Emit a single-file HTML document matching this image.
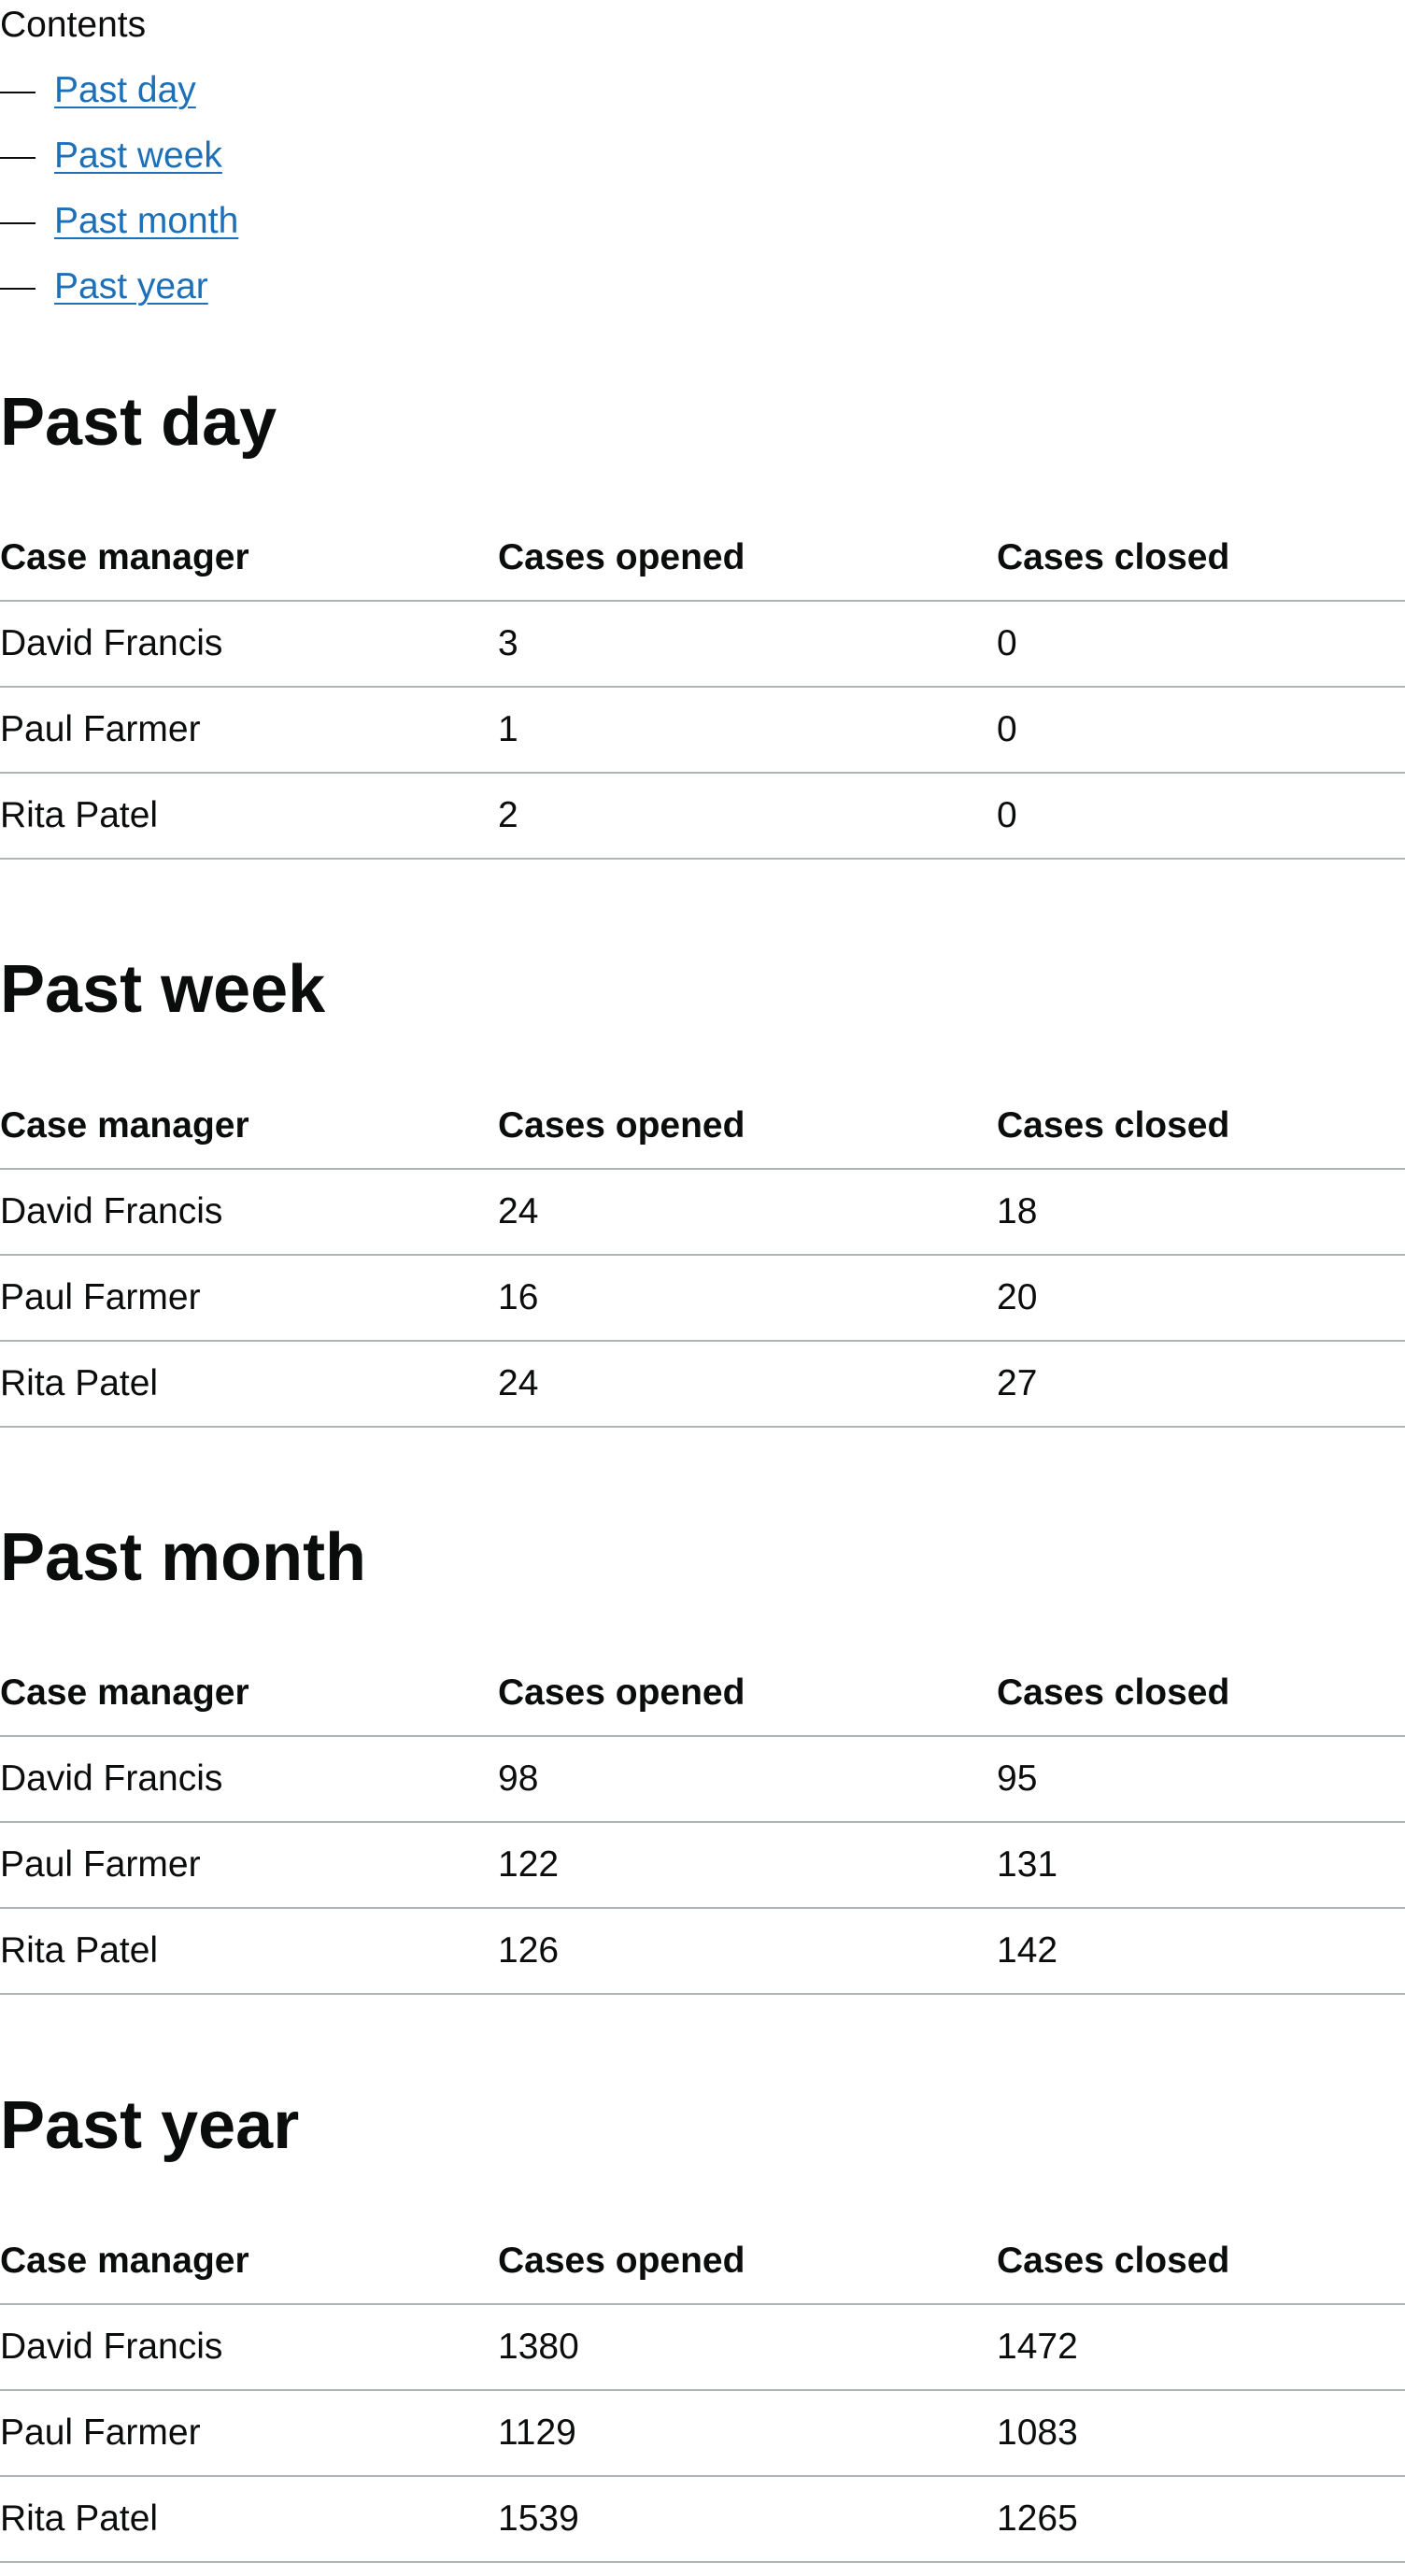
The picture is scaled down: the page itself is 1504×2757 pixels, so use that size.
<!DOCTYPE html>
<html>
<head>
<meta charset="utf-8">
<style>
html,body{margin:0;padding:0;background:#fff;}
body{width:1504px;height:2744px;position:relative;overflow:hidden;font-family:"Liberation Sans",Arial,sans-serif;color:#0b0c0c;}
.abs{position:absolute;white-space:nowrap;}
.t37{font-size:39px;line-height:39px;}
.contents{left:0;top:7px;}
.dash{position:absolute;left:0;width:38px;height:2px;background:#0b0c0c;}
a.lnk{position:absolute;left:58px;color:#1d70b8;text-decoration:underline;text-decoration-thickness:2px;text-underline-offset:5px;font-size:39px;line-height:39px;white-space:nowrap;}
.section{position:absolute;left:0;width:1504px;height:520px;}
.h2{position:absolute;left:0;top:1.6px;font-size:72px;line-height:72px;font-weight:bold;white-space:nowrap;}
.cell{position:absolute;font-size:39px;line-height:39px;white-space:nowrap;}
.th{font-weight:bold;}
.rule{position:absolute;left:0;width:1504px;height:2px;background:#b1b4b6;}
</style>
</head>
<body>
<div class="abs t37 contents">Contents</div>
<div class="dash" style="top:98px"></div>
<a class="lnk" href="#past-day" style="top:77px">Past day</a>
<div class="dash" style="top:168px"></div>
<a class="lnk" href="#past-week" style="top:147px">Past week</a>
<div class="dash" style="top:238px"></div>
<a class="lnk" href="#past-month" style="top:217px">Past month</a>
<div class="dash" style="top:308px"></div>
<a class="lnk" href="#past-year" style="top:287px">Past year</a>

<div id="sections"></div>

<script>
const sectionTitles = ["Past day","Past week","Past month","Past year"];
const sectionIds = ["past-day","past-week","past-month","past-year"];
const managers = ["David Francis","Paul Farmer","Rita Patel"];
const opened = [[3,1,2],[24,16,24],[98,122,126],[1380,1129,1539]];
const closed = [[0,0,0],[18,20,27],[95,131,142],[1472,1083,1265]];
const headers = ["Case manager","Cases opened","Cases closed"];

const root = document.getElementById('sections');
const colX = [0,533,1067];
sectionTitles.forEach((title, i) => {
  const sec = document.createElement('div');
  sec.className = 'section';
  sec.id = sectionIds[i];
  sec.style.top = (414 + i*607.67) + 'px';
  
  
  const h = document.createElement('div');
  h.className = 'h2';
  h.textContent = title;
  
  
  sec.appendChild(h);
  headers.forEach((t, c) => {
    const d = document.createElement('div');
    d.className = 'cell th';
    d.style.left = colX[c] + 'px';
    d.style.top = '163px';
    d.textContent = t;
    
    
    sec.appendChild(d);
  });
  for (let r = 0; r < 4; r++) {
    const ln = document.createElement('div');
    ln.className = 'rule';
    ln.style.top = (228 + r*92) + 'px';
    
    
    sec.appendChild(ln);
  }
  managers.forEach((m, r) => {
    const vals = [m, opened[i][r], closed[i][r]];
    vals.forEach((v, c) => {
      const d = document.createElement('div');
      d.className = 'cell';
      d.style.left = colX[c] + 'px';
      d.style.top = (255 + r*92) + 'px';
      d.textContent = v;
      
      
      sec.appendChild(d);
    });
  });
  root.appendChild(sec);
});
</script>
</body>
</html>
